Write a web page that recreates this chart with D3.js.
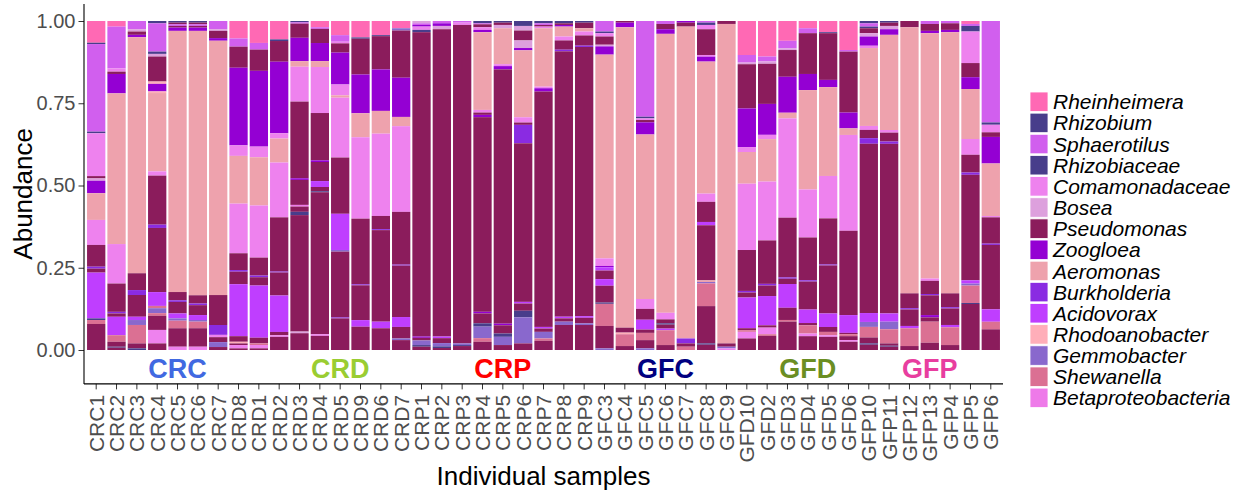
<!DOCTYPE html>
<html>
<head>
<meta charset="utf-8">
<script src="https://cdn.jsdelivr.net/npm/d3@7"></script>
<style>
  body { margin: 0; background: #fff; }
  text { font-family: "Liberation Sans", Arial, sans-serif; }
</style>
</head>
<body>
<div id="chart_area"></div>
<script>
// sample order along the x axis
var samples = ["CRC1","CRC2","CRC3","CRC4","CRC5","CRC6","CRC7",
  "CRD8","CRD1","CRD2","CRD3","CRD4","CRD5","CRD9","CRD6","CRD7",
  "CRP1","CRP2","CRP3","CRP4","CRP5","CRP6","CRP7","CRP8","CRP9",
  "GFC3","GFC4","GFC5","GFC6","GFC7","GFC8","GFC9",
  "GFD10","GFD2","GFD3","GFD4","GFD5","GFD6",
  "GFP10","GFP11","GFP12","GFP13","GFP4","GFP5","GFP6"];

var taxa = ["Rheinheimera","Rhizobium","Sphaerotilus","Rhizobiaceae","Comamonadaceae",
  "Bosea","Pseudomonas","Zoogloea","Aeromonas","Burkholderia","Acidovorax",
  "Rhodoanobacter","Gemmobacter","Shewanella","Betaproteobacteria"];
var taxonCodes = ["Rh","Rz","Sp","Rc","Co","Bo","Ps","Zo","Ae","Bu","Ac","Rd","Ge","Sh","Be"];
var taxonColors = ["#FF69B4","#483D8B","#D15FEE","#483D8B","#EE82EE","#DDA0DD","#8B1C5C",
  "#9400D3","#EEA2AD","#8A2BE2","#BF3EFF","#FFAEB9","#8968CD","#DB7093","#EE7AE9"];

// segments of each bar, top to bottom, abundance in %
var stacks = [
  [["Rh",6.6],["Rz",0.4],["Sp",26.6],["Rz",0.5],["Co",13.0],["Ps",0.7],["Bo",0.7],["Zo",3.8],["Ae",8.1],["Co",7.6],["Ps",6.6],["Bu",0.6],["Ps",1.2],["Ac",13.9],["Rz",0.5],["Sh",1.2],["Ps",7.9]],
  [["Rh",1.7],["Sp",12.7],["Co",1.0],["Ps",0.7],["Zo",5.9],["Ae",45.8],["Co",12.0],["Ps",8.6],["Bu",0.5],["Ps",1.0],["Ac",5.6],["Sh",2.0],["Ps",1.5],["Rz",0.3],["Ps",0.7]],
  [["Sp",2.5],["Bo",0.7],["Ps",1.0],["Zo",0.7],["Ae",71.7],["Ps",5.1],["Bu",1.5],["Ps",6.6],["Ac",1.0],["Ge",1.5],["Sh",5.6],["Ps",1.5],["Rz",0.5]],
  [["Rz",0.7],["Sp",8.6],["Rz",0.7],["Bo",0.8],["Ps",7.6],["Rd",0.7],["Zo",2.3],["Rd",0.5],["Ae",23.8],["Co",1.3],["Ps",14.9],["Bu",1.0],["Ps",19.5],["Ac",4.2],["Sh",0.7],["Ge",1.5],["Sh",0.8],["Ps",4.3],["Co",4.1],["Ps",2.0]],
  [["Rz",0.5],["Ps",0.5],["Sp",0.5],["Ps",0.5],["Zo",1.0],["Ae",79.3],["Ps",2.5],["Bu",0.5],["Ps",3.5],["Ac",1.5],["Ge",0.7],["Sh",2.3],["Ps",5.6],["Co",1.0]],
  [["Rz",0.5],["Ps",0.5],["Sp",0.5],["Ps",0.5],["Zo",1.0],["Ae",80.2],["Ps",2.5],["Bu",0.5],["Ps",3.0],["Ac",1.5],["Ge",0.5],["Sh",2.0],["Ps",5.6],["Co",1.0]],
  [["Sp",2.5],["Bo",0.5],["Ps",2.2],["Zo",0.8],["Ae",77.3],["Ps",9.1],["Bu",3.0],["Co",0.7],["Ps",1.5],["Ge",1.5],["Ps",0.9]],
  [["Rh",5.3],["Sp",2.5],["Ps",6.4],["Zo",23.6],["Co",3.2],["Ae",14.5],["Co",15.1],["Ps",5.1],["Bu",0.5],["Ps",3.8],["Ac",15.8],["Ps",1.7],["Rd",0.5],["Ps",0.5],["Co",1.0],["Ps",0.5]],
  [["Rh",6.6],["Sp",2.0],["Ps",6.4],["Zo",22.8],["Co",3.2],["Ae",14.5],["Co",15.7],["Ps",5.4],["Bu",0.5],["Ps",2.5],["Ac",15.7],["Ps",1.7],["Sh",0.5],["Co",1.0],["Ps",0.5]],
  [["Rh",5.6],["Rz",0.5],["Ps",6.3],["Zo",21.8],["Co",1.6],["Ae",7.3],["Co",16.7],["Ps",16.5],["Bu",0.3],["Ps",7.0],["Ac",11.1],["Ps",1.0],["Co",0.5],["Ps",4.0]],
  [["Rz",0.4],["Sp",0.4],["Ps",4.3],["Zo",7.1],["Ae",1.7],["Co",10.6],["Ps",23.3],["Zo",0.5],["Ps",7.6],["Be",0.5],["Ps",1.6],["Rz",1.0],["Ps",35.4],["Bo",0.5],["Ps",5.1]],
  [["Rh",1.9],["Sp",0.5],["Ps",4.3],["Zo",5.5],["Ae",1.8],["Co",14.0],["Ps",14.4],["Zo",0.5],["Ps",5.8],["Ac",1.8],["Ps",1.3],["Rz",0.3],["Ps",43.2],["Co",0.5],["Ps",4.3]],
  [["Rh",4.3],["Sp",2.0],["Co",0.5],["Ps",2.8],["Zo",9.7],["Co",3.3],["Ae",0.7],["Co",18.2],["Ps",17.1],["Ac",11.0],["Ge",0.5],["Ps",20.0],["Bu",0.3],["Ps",9.6]],
  [["Rh",5.0],["Rz",0.4],["Ps",10.9],["Zo",11.8],["Ae",7.3],["Co",24.8],["Ps",20.0],["Bu",0.3],["Ps",10.6],["Ac",2.0],["Ps",7.1]],
  [["Rh",4.3],["Rz",0.3],["Ps",10.1],["Zo",12.6],["Ae",6.9],["Co",25.0],["Ps",4.0],["Bu",0.3],["Ps",27.8],["Ac",2.0],["Ps",6.6]],
  [["Rh",2.2],["Ge",0.7],["Ps",14.3],["Zo",11.9],["Ae",2.8],["Co",26.0],["Ps",16.0],["Bu",0.3],["Ps",15.6],["Ac",3.0],["Ps",3.5],["Ge",0.5],["Ps",3.0]],
  [["Bo",0.7],["Sp",0.5],["Zo",0.5],["Co",1.0],["Rz",0.7],["Ps",92.5],["Zo",0.4],["Ps",0.8],["Ge",1.4],["Rz",0.5],["Ps",1.0]],
  [["Sp",0.7],["Zo",0.8],["Bo",1.0],["Ps",93.4],["Ac",0.5],["Ps",1.5],["Ge",1.0],["Rz",0.5],["Ps",0.6]],
  [["Sp",0.5],["Co",0.7],["Ps",96.7],["Ge",0.5],["Rz",0.3],["Ps",1.2]],
  [["Rz",0.7],["Sp",0.3],["Ps",0.9],["Co",0.8],["Zo",0.7],["Ae",23.6],["Co",0.8],["Ps",0.7],["Zo",0.7],["Ps",59.1],["Zo",0.5],["Ps",3.0],["Rz",1.0],["Ge",3.5],["Sh",1.1],["Ps",2.5]],
  [["Rz",0.5],["Ps",0.7],["Bo",1.0],["Ae",10.9],["Co",0.6],["Zo",1.0],["Ps",77.2],["Zo",0.5],["Ps",2.5],["Rz",1.0],["Ge",2.5],["Ps",1.5]],
  [["Rz",1.5],["Bo",1.4],["Ps",3.0],["Bo",2.3],["Zo",0.7],["Ae",20.3],["Co",1.6],["Ps",0.7],["Bu",5.6],["Ps",48.1],["Ac",0.5],["Ps",2.2],["Rz",2.0],["Ge",7.9],["Ps",2.0]],
  [["Rz",0.7],["Sp",0.5],["Ps",0.5],["Co",0.5],["Ae",17.7],["Co",0.5],["Zo",1.0],["Ps",71.4],["Ac",0.5],["Ps",1.0],["Ge",2.0],["Sh",0.7],["Ps",2.8]],
  [["Rz",0.7],["Ps",0.5],["Zo",0.5],["Ae",3.0],["Co",1.2],["Ps",2.8],["Bu",0.5],["Ps",80.5],["Ac",0.5],["Ps",1.0],["Ge",1.0],["Ps",7.6]],
  [["Rz",0.5],["Ps",1.7],["Ae",1.0],["Co",1.2],["Ps",3.1],["Bu",0.4],["Ps",81.9],["Ac",0.5],["Ps",1.7],["Ge",0.5],["Ps",7.6]],
  [["Sp",3.2],["Rz",0.5],["Co",1.0],["Ps",2.5],["Bo",0.5],["Zo",2.5],["Ae",61.8],["Co",2.3],["Zo",0.4],["Ac",1.0],["Ps",2.6],["Ac",2.0],["Ps",5.1],["Rz",0.4],["Sh",6.7],["Ps",6.8],["Ge",0.5]],
  [["Ps",0.5],["Zo",1.4],["Ae",91.5],["Ps",1.5],["Rd",0.5],["Sh",3.6],["Ps",1.2]],
  [["Sp",29.1],["Rz",0.5],["Co",0.5],["Ps",0.7],["Zo",3.7],["Ae",50.0],["Co",3.0],["Ps",3.3],["Ac",3.0],["Ps",1.0],["Sh",2.2],["Ps",2.5],["Ge",0.5]],
  [["Sp",0.9],["Ps",1.6],["Zo",1.4],["Ae",84.7],["Co",2.0],["Ps",1.2],["Rz",0.4],["Ps",1.2],["Ac",0.5],["Sh",4.5],["Ps",1.5]],
  [["Zo",0.5],["Ps",1.2],["Ae",94.7],["Bu",1.5],["Ps",1.0],["Sh",1.0]],
  [["Sp",0.5],["Rz",0.7],["Co",1.3],["Ps",7.8],["Co",0.5],["Zo",1.5],["Ae",40.0],["Co",2.5],["Ps",6.1],["Ac",1.0],["Ps",16.7],["Ae",0.5],["Ge",0.4],["Sh",6.9],["Ps",11.3],["Rz",0.4],["Ps",1.6]],
  [["Ps",0.9],["Ae",97.1],["Ps",1.0],["Ge",0.5],["Co",0.5]],
  [["Rh",10.3],["Sp",2.3],["Bo",0.5],["Ps",13.4],["Zo",11.7],["Co",1.5],["Ae",9.6],["Co",20.1],["Ps",12.4],["Bu",0.5],["Ps",1.5],["Ac",9.3],["Ps",0.6],["Sh",0.5],["Co",2.0],["Ps",3.5]],
  [["Rh",10.8],["Sp",1.5],["Bo",0.7],["Ps",12.2],["Zo",9.4],["Co",1.3],["Ae",12.9],["Co",17.9],["Ps",13.2],["Bu",0.5],["Ps",3.2],["Ac",8.9],["Ps",0.7],["Co",2.0],["Sh",0.5],["Ps",4.3]],
  [["Rh",6.0],["Sp",2.3],["Bo",0.5],["Ps",8.1],["Zo",10.9],["Ae",1.7],["Co",30.1],["Ps",18.1],["Bu",0.4],["Ps",1.6],["Ac",7.2],["Ps",3.7],["Sh",0.5],["Ps",8.6]],
  [["Rh",2.2],["Sp",1.5],["Ps",12.4],["Zo",4.9],["Ae",30.2],["Co",14.6],["Ps",13.0],["Bu",0.4],["Ps",8.5],["Ac",4.1],["Ps",0.7],["Sh",2.5],["Co",0.8],["Ps",4.2]],
  [["Rh",3.4],["Rz",0.3],["Ps",14.2],["Zo",2.2],["Ae",27.0],["Co",12.9],["Ps",14.0],["Bu",0.3],["Ps",14.6],["Ac",4.1],["Ps",1.5],["Sh",1.0],["Co",0.5],["Ps",4.0]],
  [["Rh",8.8],["Sp",0.5],["Ps",18.5],["Zo",4.8],["Ae",2.0],["Co",29.1],["Ps",25.6],["Ac",5.4],["Ps",0.4],["Sh",0.6],["Ps",1.2],["Co",0.5],["Ps",2.5]],
  [["Rz",0.7],["Sp",1.0],["Rz",0.5],["Ps",1.5],["Bo",1.0],["Zo",2.8],["Co",0.7],["Ae",23.6],["Co",1.2],["Ps",2.5],["Bu",1.7],["Ps",51.3],["Ac",2.7],["Ge",1.5],["Sh",3.2],["Ps",1.8],["Rz",0.4],["Ps",1.6]],
  [["Rz",0.5],["Ps",1.0],["Bo",1.0],["Zo",1.7],["Ae",28.9],["Co",0.8],["Ps",2.7],["Bu",0.7],["Ps",51.5],["Ac",2.5],["Ge",2.3],["Sh",4.3],["Ps",0.7],["Rz",0.3],["Ps",1.0]],
  [["Ps",1.9],["Ae",80.8],["Ps",4.5],["Bu",0.4],["Ps",5.0],["Ac",0.7],["Sh",5.4],["Ps",1.2]],
  [["Sp",0.9],["Ps",2.1],["Zo",0.7],["Ae",74.5],["Co",0.7],["Ps",4.0],["Bu",0.4],["Ps",6.0],["Zo",0.7],["Ps",1.3],["Sh",6.4],["Ps",2.2]],
  [["Sp",0.7],["Ps",2.0],["Zo",0.7],["Ae",79.3],["Ps",4.2],["Bu",0.4],["Ps",5.0],["Ac",0.7],["Sh",5.4],["Ps",1.5]],
  [["Rh",0.9],["Sp",0.6],["Rz",1.7],["Co",9.6],["Ps",4.3],["Zo",3.6],["Ae",15.2],["Co",4.8],["Ps",5.4],["Bu",0.7],["Ps",32.1],["Ac",1.0],["Ge",0.6],["Sh",5.3],["Rz",0.3],["Ps",14.0]],
  [["Sp",30.9],["Rz",0.7],["Co",2.3],["Ps",1.4],["Zo",8.1],["Ae",16.0],["Co",0.4],["Ps",8.0],["Bu",0.4],["Ps",19.6],["Ac",3.8],["Sh",2.3],["Ps",6.3]]
];

var groupNames = ["CRC","CRD","CRP","GFC","GFD","GFP"];
var groupColors = ["#4169E1","#9ACD32","#FF0000","#000080","#6B8E23","#E83E9F"];
var groupAt = ["CRC5","CRD5","CRP5","GFC6","GFD4","GFP13"];
var yTicks = [0, 0.25, 0.5, 0.75, 1];

var frame_width = 1250, frame_height = 500;
var svg = d3.select("#chart_area").append("svg")
  .attr("width", frame_width).attr("height", frame_height);

var xScale = d3.scaleBand().domain(samples).range([84, 1003])
  .paddingInner(0.1).paddingOuter(0.15);
var yScale = d3.scaleLinear().domain([0, 1]).range([350, 21]);
var colour = d3.scaleOrdinal().domain(taxonCodes).range(taxonColors);

var panelTop = yScale(1.052), panelBottom = yScale(-0.103);

// bars
var rows = [];
stacks.forEach(function(segs, i) {
  var total = d3.sum(segs, function(s) { return s[1]; });
  var cum = 0;
  segs.forEach(function(s) {
    rows.push({ sample: samples[i], code: s[0], top: 1 - cum / total, bottom: 1 - (cum + s[1]) / total });
    cum += s[1];
  });
});

svg.append("g").selectAll("rect").data(rows).enter().append("rect")
  .attr("x", function(d) { return xScale(d.sample); })
  .attr("width", xScale.bandwidth())
  .attr("y", function(d) { return yScale(d.top); })
  .attr("height", function(d) { return yScale(d.bottom) - yScale(d.top); })
  .attr("fill", function(d) { return colour(d.code); });

// group labels
svg.append("g").selectAll("text").data(groupNames).enter().append("text")
  .attr("x", function(d, i) { return xScale(groupAt[i]) + xScale.bandwidth() / 2; })
  .attr("y", yScale(-0.055))
  .attr("dy", "0.36em")
  .attr("text-anchor", "middle")
  .style("font-size", "27px").style("font-weight", "bold")
  .style("fill", function(d, i) { return groupColors[i]; })
  .text(function(d) { return d; });

// y axis
var yAxis = svg.append("g").attr("transform", "translate(84,0)")
  .call(d3.axisLeft(yScale).tickValues(yTicks).tickFormat(d3.format(".2f")).tickSize(5.5).tickPadding(3).tickSizeOuter(0));
yAxis.select(".domain").remove();
yAxis.selectAll("line").attr("stroke", "#333");
yAxis.selectAll("text").style("font-size", "20px").style("fill", "#4d4d4d");
svg.append("line").attr("x1", 84).attr("x2", 84).attr("y1", panelTop).attr("y2", panelBottom)
  .attr("stroke", "#000").attr("stroke-width", 1.1);

// x axis
var xAxis = svg.append("g").attr("transform", "translate(0," + panelBottom + ")")
  .call(d3.axisBottom(xScale).tickSize(5.5).tickSizeOuter(0));
xAxis.select(".domain").remove();
xAxis.selectAll("line").attr("stroke", "#333");
xAxis.selectAll("text")
  .attr("transform", "rotate(-90)")
  .attr("x", -11).attr("y", 0).attr("dy", "0.36em")
  .style("text-anchor", "end")
  .style("font-size", "21px").style("fill", "#4d4d4d");
svg.append("line").attr("x1", 84).attr("x2", 1003).attr("y1", panelBottom).attr("y2", panelBottom)
  .attr("stroke", "#000").attr("stroke-width", 1.1);

// axis titles
svg.append("text")
  .attr("transform", "translate(32," + ((panelTop + panelBottom) / 2) + ") rotate(-90)")
  .attr("text-anchor", "middle")
  .style("font-size", "26px").style("fill", "#000")
  .text("Abundance");
svg.append("text")
  .attr("x", (84 + 1003) / 2).attr("y", 485)
  .attr("text-anchor", "middle")
  .style("font-size", "26px").style("fill", "#000")
  .text("Individual samples");

// legend
var legend = svg.append("g").attr("transform", "translate(1030,92)");
var item = legend.selectAll("g").data(taxa).enter().append("g")
  .attr("transform", function(d, i) { return "translate(0," + (i * 21.15) + ")"; });
item.append("rect")
  .attr("width", 18).attr("height", 19.5)
  .attr("fill", function(d, i) { return taxonColors[i]; })
  .attr("stroke", "#fff").attr("stroke-width", 0.8);
item.append("text")
  .attr("x", 23).attr("y", 9.75).attr("dy", "0.36em")
  .style("font-size", "21px").style("font-style", "italic").style("fill", "#000")
  .text(function(d) { return d; });
</script>
</body>
</html>
